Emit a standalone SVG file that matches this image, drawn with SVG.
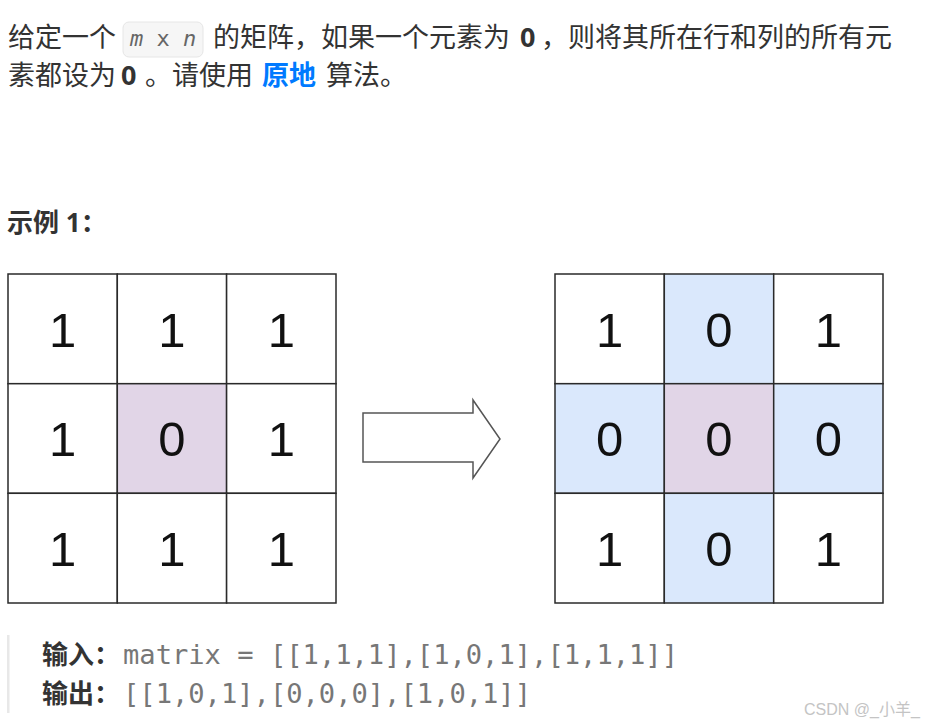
<svg xmlns="http://www.w3.org/2000/svg" width="927" height="724" viewBox="0 0 927 724">
<style>
.t{font-family:"Noto Sans","Noto Sans CJK SC",sans-serif;font-size:27px;fill:#333}
.b{font-weight:bold}
.cell{stroke:#2a2a2a;stroke-width:1.5}
.w{fill:#ffffff}
.p{fill:#e1d5e7}
.bl{fill:#dae8fc}
.d{font-family:"Liberation Sans",Arial,sans-serif;font-size:49px;fill:#111;text-anchor:middle}
.mono{font-family:"DejaVu Sans Mono",monospace;font-size:26px;fill:#777}
</style>
<rect width="927" height="724" fill="#ffffff"/>
<g id="description">
<text class="t" x="8" y="47">给定一个</text>
<rect x="123" y="22" width="80" height="35" rx="6" fill="#f6f6f6" stroke="#e6e6e6"/>
<text x="130" y="46" style="font-family:'DejaVu Sans Mono',monospace;font-size:22px;fill:#666"><tspan font-style="italic">m</tspan> x <tspan font-style="italic">n</tspan></text>
<text class="t" x="213" y="47">的矩阵，如果一个元素为</text>
<text class="t b" x="520" y="47">0</text>
<text class="t" x="541" y="47">，则将其所在行和列的所有元</text>
<text class="t" x="8" y="85">素都设为</text>
<text class="t b" x="121" y="85">0</text>
<text class="t" x="145" y="85">。请使用</text>
<text class="t b" x="262" y="85" style="fill:#007aff">原地</text>
<text class="t" x="326" y="85">算法。</text>
</g>
<g id="example-title">
<text class="t b" x="7" y="232" style="font-size:26px">示例 1：</text>
</g>
<g id="matrix-input">
<rect class="cell w" x="8" y="274" width="109.3" height="109.7"/>
<rect class="cell w" x="117.3" y="274" width="109.3" height="109.7"/>
<rect class="cell w" x="226.6" y="274" width="109.4" height="109.7"/>
<rect class="cell w" x="8" y="383.7" width="109.3" height="109.6"/>
<rect class="cell p" x="117.3" y="383.7" width="109.3" height="109.6"/>
<rect class="cell w" x="226.6" y="383.7" width="109.4" height="109.6"/>
<rect class="cell w" x="8" y="493.3" width="109.3" height="109.7"/>
<rect class="cell w" x="117.3" y="493.3" width="109.3" height="109.7"/>
<rect class="cell w" x="226.6" y="493.3" width="109.4" height="109.7"/>
<text class="d" x="62.6" y="347">1</text>
<text class="d" x="172" y="347">1</text>
<text class="d" x="281.3" y="347">1</text>
<text class="d" x="62.6" y="456">1</text>
<text class="d" x="172" y="456">0</text>
<text class="d" x="281.3" y="456">1</text>
<text class="d" x="62.6" y="566">1</text>
<text class="d" x="172" y="566">1</text>
<text class="d" x="281.3" y="566">1</text>
</g>
<g id="connectors">
<polygon points="363,413 473,413 473,400 500,439 473,478 473,462 363,462" fill="#ffffff" stroke="#555" stroke-width="1.5" stroke-linejoin="miter"/>
</g>
<g id="matrix-output">
<rect class="cell w" x="555" y="274" width="109.3" height="109.7"/>
<rect class="cell bl" x="664.3" y="274" width="109.4" height="109.7"/>
<rect class="cell w" x="773.7" y="274" width="109.3" height="109.7"/>
<rect class="cell bl" x="555" y="383.7" width="109.3" height="109.6"/>
<rect class="cell p" x="664.3" y="383.7" width="109.4" height="109.6"/>
<rect class="cell bl" x="773.7" y="383.7" width="109.3" height="109.6"/>
<rect class="cell w" x="555" y="493.3" width="109.3" height="109.7"/>
<rect class="cell bl" x="664.3" y="493.3" width="109.4" height="109.7"/>
<rect class="cell w" x="773.7" y="493.3" width="109.3" height="109.7"/>
<text class="d" x="609.6" y="347">1</text>
<text class="d" x="719" y="347">0</text>
<text class="d" x="828.3" y="347">1</text>
<text class="d" x="609.6" y="456">0</text>
<text class="d" x="719" y="456">0</text>
<text class="d" x="828.3" y="456">0</text>
<text class="d" x="609.6" y="566">1</text>
<text class="d" x="719" y="566">0</text>
<text class="d" x="828.3" y="566">1</text>
</g>
<g id="example-io">
<rect x="7" y="635" width="2.5" height="78" fill="#e8e8e8"/>
<text class="t b" x="42" y="664" style="font-size:26px">输入：</text>
<text class="mono" x="123" y="664" textLength="555" lengthAdjust="spacingAndGlyphs">matrix = [[1,1,1],[1,0,1],[1,1,1]]</text>
<text class="t b" x="42" y="703" style="font-size:26px">输出：</text>
<text class="mono" x="123" y="703" textLength="408" lengthAdjust="spacingAndGlyphs">[[1,0,1],[0,0,0],[1,0,1]]</text>
</g>
<g id="watermark">
<text x="804" y="715" style="font-family:'Liberation Sans','Noto Sans CJK SC',sans-serif;font-size:16px;fill:#c4c4c4">CSDN @_小羊_</text>
</g>
</svg>
